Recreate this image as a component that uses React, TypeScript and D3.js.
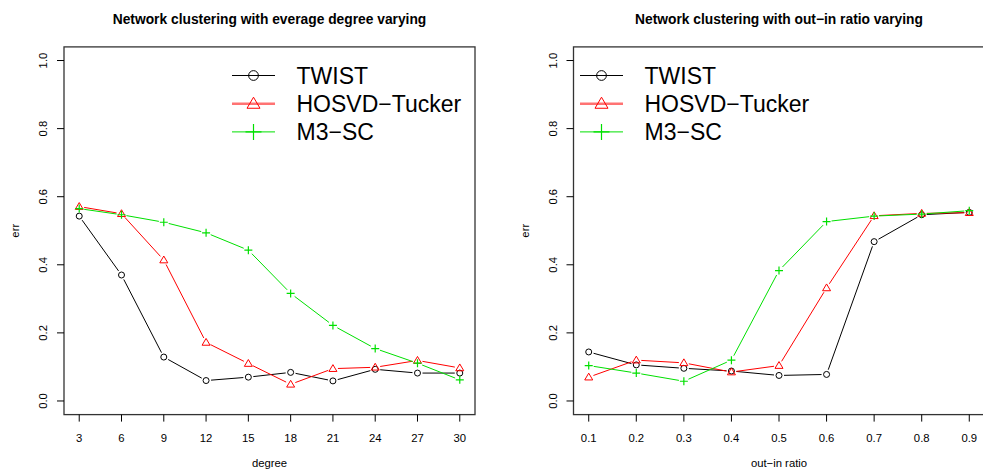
import React from "react";
import * as d3 from "d3";

// data
const degrees = [3, 6, 9, 12, 15, 18, 21, 24, 27, 30];
const twistDegree = [0.543, 0.37, 0.129, 0.06, 0.07, 0.084, 0.059, 0.093, 0.082, 0.082];
const hosvdDegree = [0.571, 0.55, 0.414, 0.172, 0.11, 0.049, 0.095, 0.099, 0.119, 0.097];
const m3Degree = [0.565, 0.547, 0.525, 0.494, 0.443, 0.316, 0.222, 0.154, 0.111, 0.062];

const ratios = [0.1, 0.2, 0.3, 0.4, 0.5, 0.6, 0.7, 0.8, 0.9];
const twistRatio = [0.144, 0.106, 0.096, 0.088, 0.075, 0.078, 0.468, 0.547, 0.554];
const hosvdRatio = [0.07, 0.12, 0.112, 0.085, 0.104, 0.332, 0.544, 0.551, 0.553];
const m3Ratio = [0.104, 0.082, 0.058, 0.12, 0.383, 0.527, 0.543, 0.549, 0.559];

const yTicks = [0, 0.2, 0.4, 0.6, 0.8, 1.0];
const methods = ["TWIST", "HOSVD\u2212Tucker", "M3\u2212SC"];
const colors = ["#000000", "#ff0000", "#00e000"];
const shapes = ["circle", "triangle", "plus"];

const W = 983;
const H = 472;
const font = "'Liberation Sans', Arial, Helvetica, sans-serif";

function Marker({ shape, x, y, color, size }) {
  if (shape === "circle") {
    return <circle cx={x} cy={y} r={size * 0.75} fill="none" stroke={color} strokeWidth={1} />;
  }
  if (shape === "triangle") {
    const s = size;
    const pts = [
      [x, y - s * 1.0],
      [x - s * 1.0, y + s * 0.7],
      [x + s * 1.0, y + s * 0.7],
    ];
    return <polygon points={pts.map((p) => p.join(",")).join(" ")} fill="none" stroke={color} strokeWidth={1} />;
  }
  return (
    <path
      d={`M${x - size},${y}H${x + size}M${x},${y - size}V${y + size}`}
      stroke={color}
      strokeWidth={1.2}
      fill="none"
    />
  );
}

function Panel({ left, title, xLabel, xs, series, legendX }) {
  const lo = d3.min(xs);
  const hi = d3.max(xs);
  const pad = (hi - lo) * 0.04;
  const x = d3.scaleLinear().domain([lo - pad, hi + pad]).range([left, left + 411]);
  const y = d3.scaleLinear().domain([-0.04, 1.04]).range([414.6, 46.9]);
  const [x0, x1] = x.range();
  const [yb, yt] = y.range();
  const gap = 5;

  const fmt = (v) => (Number.isInteger(v) ? String(v) : v.toFixed(1));

  return (
    <g>
      <text x={(x0 + x1) / 2} y={23.5} textAnchor="middle" fontFamily={font} fontWeight="bold" fontSize={13.8}>
        {title}
      </text>
      <rect x={x0} y={yt} width={x1 - x0} height={yb - yt} fill="none" stroke="#333" strokeWidth={1.3} />
      {xs.map((v) => (
        <g key={v}>
          <line x1={x(v)} x2={x(v)} y1={yb} y2={yb + 7} stroke="#000" />
          <text x={x(v)} y={442} textAnchor="middle" fontFamily={font} fontSize={11.3}>
            {fmt(v)}
          </text>
        </g>
      ))}
      {yTicks.map((v) => (
        <g key={v}>
          <line x1={x0 - 7} x2={x0} y1={y(v)} y2={y(v)} stroke="#000" />
          <text
            transform={`translate(${x0 - 17},${y(v)}) rotate(-90)`}
            textAnchor="middle"
            fontFamily={font}
            fontSize={11.3}
          >
            {v.toFixed(1)}
          </text>
        </g>
      ))}
      <text x={(x0 + x1) / 2} y={467} textAnchor="middle" fontFamily={font} fontSize={11.3}>
        {xLabel}
      </text>
      <text
        transform={`translate(${x0 - 45},${(yt + yb) / 2}) rotate(-90)`}
        textAnchor="middle"
        fontFamily={font}
        fontSize={11.3}
      >
        err
      </text>
      <g>
        {series.map((vals, si) => {
          const pts = vals.map((v, i) => [x(xs[i]), y(v)]);
          return (
            <g key={si}>
              {pts.slice(1).map((p, i) => {
                const a = pts[i];
                const dx = p[0] - a[0];
                const dy = p[1] - a[1];
                const len = Math.hypot(dx, dy);
                if (len <= gap * 2) return null;
                const ux = dx / len;
                const uy = dy / len;
                return (
                  <line
                    key={i}
                    x1={a[0] + ux * gap}
                    y1={a[1] + uy * gap}
                    x2={p[0] - ux * gap}
                    y2={p[1] - uy * gap}
                    stroke={colors[si]}
                    strokeWidth={1}
                  />
                );
              })}
              {pts.map((p, i) => (
                <Marker key={i} shape={shapes[si]} x={p[0]} y={p[1]} color={colors[si]} size={4} />
              ))}
            </g>
          );
        })}
      </g>
      {methods.map((m, i) => {
        const ly = 75.5 + i * 28.2;
        return (
          <g key={m}>
            <line
              x1={legendX}
              x2={legendX + 43}
              y1={ly}
              y2={ly}
              stroke={colors[i]}
              strokeOpacity={i === 1 ? 0.55 : 1}
              strokeWidth={i === 1 ? 2.5 : 1}
            />
            <Marker shape={shapes[i]} x={legendX + 21.5} y={ly} color={colors[i]} size={i === 2 ? 8 : 6.5} />
            <text x={legendX + 64.5} y={ly + 8.3} fontFamily={font} fontSize={23}>
              {m}
            </text>
          </g>
        );
      })}
    </g>
  );
}

export default function App() {
  return (
    <svg width={W} height={H} style={{ position: "absolute", left: 0, top: 0, background: "#fff" }}>
      <rect width={W} height={H} fill="#fff" />
      <Panel
        left={64}
        title="Network clustering with everage degree varying"
        xLabel="degree"
        xs={degrees}
        series={[twistDegree, hosvdDegree, m3Degree]}
        legendX={232}
      />
      <Panel
        left={573.5}
        title={"Network clustering with out\u2212in ratio varying"}
        xLabel={"out\u2212in ratio"}
        xs={ratios}
        series={[twistRatio, hosvdRatio, m3Ratio]}
        legendX={580}
      />
    </svg>
  );
}
